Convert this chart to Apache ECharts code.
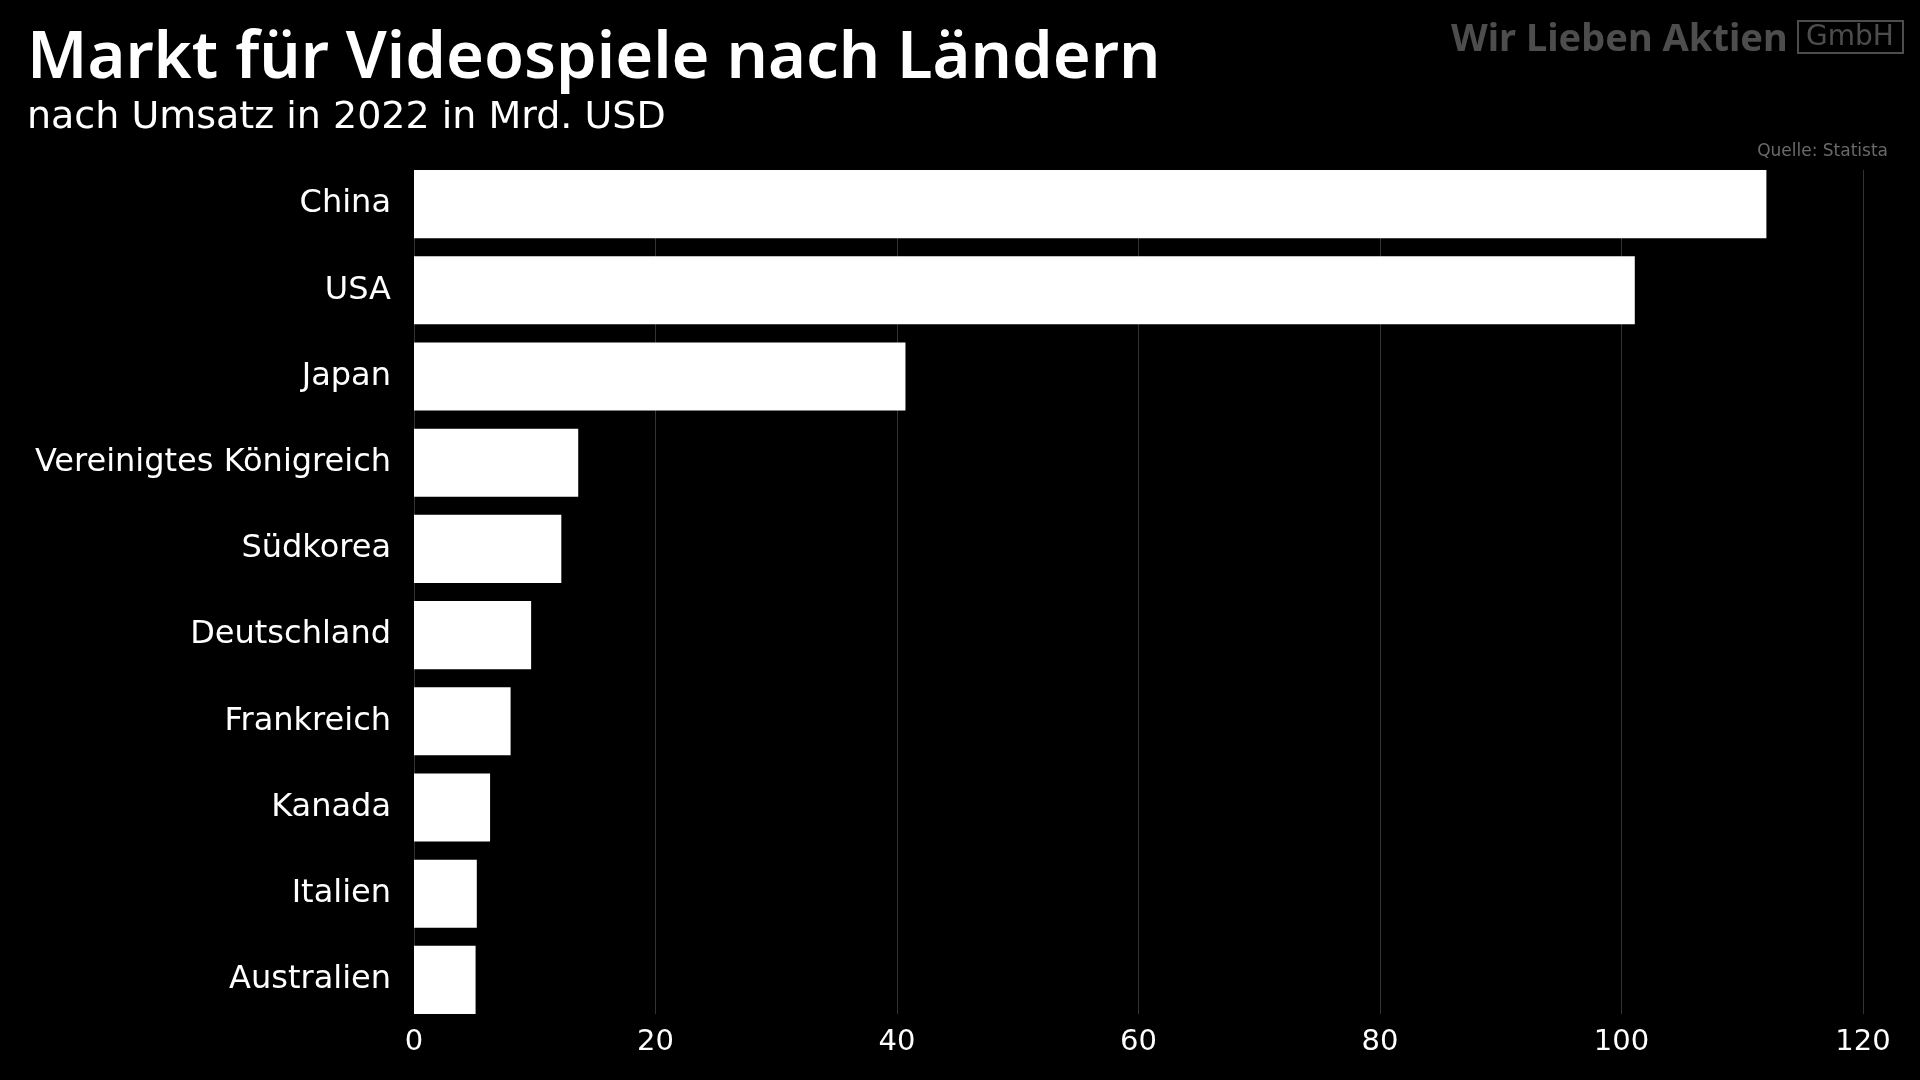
<!DOCTYPE html>
<html>
<head>
<meta charset="utf-8">
<script src="https://cdn.jsdelivr.net/npm/echarts@6/dist/echarts.min.js"></script>
<style>
html,body{margin:0;padding:0;background:#000;}
#chart{width:1920px;height:1080px;}
</style>
</head>
<body>
<div id="chart"></div>
<script>
const titleText = 'Markt für Videospiele nach Ländern';
const subtitleText = 'nach Umsatz in 2022 in Mrd. USD';
const sourceText = 'Quelle: Statista';
const brandText = 'Wir Lieben Aktien';
const brandBox = 'GmbH';
const countries = ['China','USA','Japan','Vereinigtes Königreich','Südkorea','Deutschland','Frankreich','Kanada','Italien','Australien'];
const revenue = [112.0, 101.1, 40.7, 13.6, 12.2, 9.7, 8.0, 6.3, 5.2, 5.1];
const xTicks = [0, 20, 40, 60, 80, 100, 120];

const FONT = '"Noto Sans", sans-serif';
const WIDE = '"DejaVu Sans", sans-serif';
const chart = echarts.init(document.getElementById('chart'), null, {renderer:'canvas'});
chart.setOption({
  backgroundColor: '#000',
  animation: false,
  graphic: [
    {type:'text', x:27, y:59, style:{text:titleText, fill:'#fff', font:'600 65px ' + FONT, verticalAlign:'middle'}},
    {type:'text', x:27, y:118, style:{text:subtitleText, fill:'#fff', font:'400 38px ' + WIDE, verticalAlign:'middle'}},
    {type:'text', x:1888, y:152, style:{text:sourceText, fill:'#6a6a6a', font:'400 17px ' + WIDE, align:'right', verticalAlign:'middle'}},
    {type:'text', x:1451, y:40, style:{text:brandText, fill:'#4d4d4d', font:'700 38px ' + FONT, verticalAlign:'middle'}},
    {type:'rect', shape:{x:1798, y:21, width:105, height:32}, style:{fill:'none', stroke:'#4d4d4d', lineWidth:2}},
    {type:'text', x:1850, y:38, style:{text:brandBox, fill:'#4d4d4d', font:'400 28px ' + WIDE, align:'center', verticalAlign:'middle'}}
  ],
  grid: [
    {left:414, right:57, top:161, bottom:57, containLabel:false},
    {left:414, right:57, top:170, bottom:66, containLabel:false}
  ],
  xAxis: [
    {gridIndex:0, type:'value', min:0, max:120, interval:20, show:false},
    {gridIndex:1, type:'value', min:0, max:120, interval:20,
     axisLine:{show:false}, axisTick:{show:false},
     splitLine:{show:true, lineStyle:{color:'#333', width:1}},
     axisLabel:{color:'#fff', fontSize:29, fontFamily:WIDE, margin:14,
       formatter: v => xTicks.includes(v) ? String(v) : ''}}
  ],
  yAxis: [
    {gridIndex:0, type:'category', data:countries, inverse:true,
     axisLine:{show:false}, axisTick:{show:false}, splitLine:{show:false},
     axisLabel:{color:'#fff', fontSize:32, fontFamily:WIDE, margin:23}},
    {gridIndex:1, type:'value', show:false, min:0, max:1}
  ],
  series: [
    {type:'scatter', xAxisIndex:1, yAxisIndex:1, data:[], silent:true},
    {type:'bar', xAxisIndex:0, yAxisIndex:0, data:revenue, barCategoryGap:'21%',
     itemStyle:{color:'#fff'}, z:5}
  ]
});
</script>
</body>
</html>
